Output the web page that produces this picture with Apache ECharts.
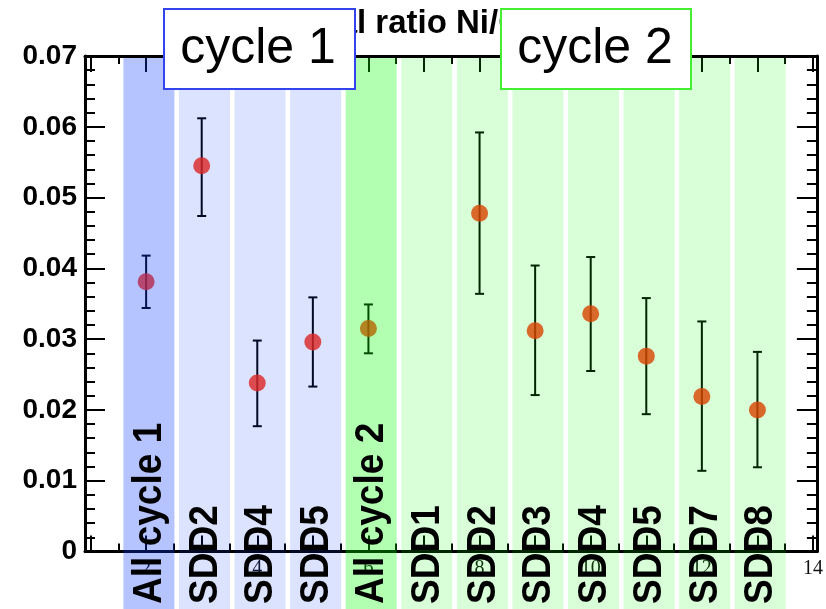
<!DOCTYPE html>
<html>
<head>
<meta charset="utf-8">
<script src="https://cdn.jsdelivr.net/npm/echarts@6/dist/echarts.min.js"></script>
<style>html,body{margin:0;padding:0;background:#fff;}#c{width:826px;height:609px;}</style>
</head>
<body>
<div id="c"></div>
<script>
// ---- data ----
var labels = ["All cycle 1","SDD2","SDD4","SDD5","All cycle 2","SDD1","SDD2","SDD3","SDD4","SDD5","SDD7","SDD8"];
var positions = [2,3,4,5,6,7,8,9,10,11,12,13];
var cycles = [1,1,1,1,2,2,2,2,2,2,2,2];
var isAll = [1,0,0,0,1,0,0,0,0,0,0,0];
var values = [0.0381,0.0545,0.0238,0.0296,0.0315,null,0.0478,0.0312,0.0336,0.0276,0.0219,0.0200];
var upper  = [0.0418,0.0612,0.0298,0.0359,0.0349,null,0.0592,0.0404,0.0416,0.0358,0.0325,0.0282];
var lower  = [0.0344,0.0474,0.0177,0.0233,0.0280,null,0.0364,0.0221,0.0255,0.0194,0.0114,0.0119];
var xTickLabels = [2,4,6,8,10,12,14];
var xMajorTicks = [1,2,3,4,5,6,7,8,9,10,11,12,13,14];
var xMinorTicks = [1.5,2.5,3.5,4.5,5.5,6.5,7.5,8.5,9.5,10.5,11.5,12.5,13.5];
var titlePrefix = "Signa", titleRest = "l ratio Ni/Cu";
var boxTexts = ["cycle 1","cycle 2"];

var XMIN = 0.9, XMAX = 14.07;
var bandColors = {
  "1_1": "rgba(10,55,255,0.30)", "1_0": "rgba(10,55,255,0.14)",
  "2_1": "rgba(0,255,0,0.30)",  "2_0": "rgba(0,255,0,0.15)"
};

var pts = [], errs = [], bands = [];
for (var i = 0; i < positions.length; i++) {
  bands.push([positions[i], cycles[i], isAll[i], i]);
  if (values[i] !== null) {
    pts.push([positions[i], values[i]]);
    errs.push([positions[i], lower[i], upper[i]]);
  }
}

function xAxisBase(pos, ticks, len, showLine, showLabel) {
  return {
    type: 'value', gridIndex: 0, position: pos, min: XMIN, max: XMAX,
    splitLine: {show: false},
    axisLine: {show: showLine, onZero: false, lineStyle: {color: '#000', width: 3}},
    axisTick: {show: true, inside: true, length: len, customValues: ticks, lineStyle: {color: '#000', width: 2}},
    axisLabel: showLabel ? {show: true, customValues: xTickLabels, fontFamily: 'Liberation Serif', fontSize: 20, color: '#111', margin: 7} : {show: false}
  };
}
function yAxisBase(pos, showLabel) {
  return {
    type: 'value', position: pos, min: 0, max: 0.07, interval: 0.01,
    splitLine: {show: false},
    axisLine: {show: true, lineStyle: {color: '#000', width: 3}},
    axisTick: {show: true, inside: true, length: 20, lineStyle: {color: '#000', width: 2}},
    minorTick: {show: true, splitNumber: 5, length: 10, lineStyle: {color: '#000', width: 2}},
    axisLabel: showLabel ? {show: true, fontFamily: 'Liberation Sans', fontWeight: 'bold', fontSize: 28, color: '#000', margin: 8,
      formatter: function (v) { return v === 0 ? '0' : v.toFixed(2); }} : {show: false}
  };
}

var chart = echarts.init(document.getElementById('c'), null, {renderer: 'canvas'});
chart.setOption({
  animation: false,
  backgroundColor: '#fff',
  grid: {left: 85, right: 9, top: 56, bottom: 57.5, containLabel: false},
  xAxis: [
    xAxisBase('bottom', xMajorTicks, 16, true, true),
    xAxisBase('bottom', xMinorTicks, 8, false, false),
    xAxisBase('top', xMajorTicks, 16, true, false),
    xAxisBase('top', xMinorTicks, 8, false, false)
  ],
  yAxis: [yAxisBase('left', true), yAxisBase('right', false)],
  series: [
    {
      type: 'custom', name: 'errors', xAxisIndex: 0, yAxisIndex: 0, z: 2,
      data: errs,
      renderItem: function (params, api) {
        var x = api.value(0);
        var p1 = api.coord([x, api.value(2)]);
        var p2 = api.coord([x, api.value(1)]);
        var st = {stroke: '#000', lineWidth: 2};
        return {type: 'group', children: [
          {type: 'line', shape: {x1: p1[0], y1: p1[1], x2: p2[0], y2: p2[1]}, style: st},
          {type: 'line', shape: {x1: p1[0]-4.5, y1: p1[1], x2: p1[0]+4.5, y2: p1[1]}, style: st},
          {type: 'line', shape: {x1: p2[0]-4.5, y1: p2[1], x2: p2[0]+4.5, y2: p2[1]}, style: st}
        ]};
      }
    },
    {
      type: 'scatter', name: 'ratio', xAxisIndex: 0, yAxisIndex: 0, z: 3,
      symbol: 'circle', symbolSize: 17,
      itemStyle: {color: 'rgb(255,35,0)'},
      data: pts
    },
    {
      type: 'custom', name: 'bands', xAxisIndex: 0, yAxisIndex: 0, z: 5, clip: false,
      data: bands,
      renderItem: function (params, api) {
        var x = api.value(0), cyc = api.value(1), all = api.value(2), idx = api.value(3);
        var c = x + 0.05;
        var left = api.coord([c - 0.459, 0])[0];
        var right = api.coord([c + 0.459, 0])[0];
        var top = api.coord([c, 0.07])[1] + 2;
        var bottom = api.getHeight();
        var cx = (left + right) / 2;
        return {type: 'group', children: [
          {type: 'rect', shape: {x: left, y: top, width: right - left, height: bottom - top},
           style: {fill: bandColors[cyc + '_' + all]}},
          {type: 'text', x: cx + 1, y: 604, rotation: Math.PI / 2, scaleX: 0.95, scaleY: 1.04,
           style: {text: labels[idx], font: 'bold 39px "Liberation Sans"', fill: '#000',
                   align: 'left', verticalAlign: 'middle'}}
        ]};
      }
    }
  ],
  graphic: [
    {type: 'text', z: 20, x: 357, y: 23.5, style: {text: titlePrefix, font: 'bold 33px "Liberation Sans"', fill: '#000', align: 'right', verticalAlign: 'middle'}},
    {type: 'text', z: 20, x: 357, y: 23.5, style: {text: titleRest, font: 'bold 33px "Liberation Sans"', fill: '#000', align: 'left', verticalAlign: 'middle'}},
    {type: 'rect', z: 30, shape: {x: 164, y: 9, width: 191, height: 80}, style: {fill: '#fff', stroke: '#3344ee', lineWidth: 2}},
    {type: 'text', z: 31, x: 258, y: 49.5, style: {text: boxTexts[0], font: '50px "Liberation Sans"', fill: '#000', align: 'center', verticalAlign: 'middle'}},
    {type: 'rect', z: 30, shape: {x: 501, y: 9, width: 190, height: 80}, style: {fill: '#fff', stroke: '#44ee33', lineWidth: 2}},
    {type: 'text', z: 31, x: 595, y: 49.5, style: {text: boxTexts[1], font: '50px "Liberation Sans"', fill: '#000', align: 'center', verticalAlign: 'middle'}}
  ]
});
</script>
</body>
</html>
